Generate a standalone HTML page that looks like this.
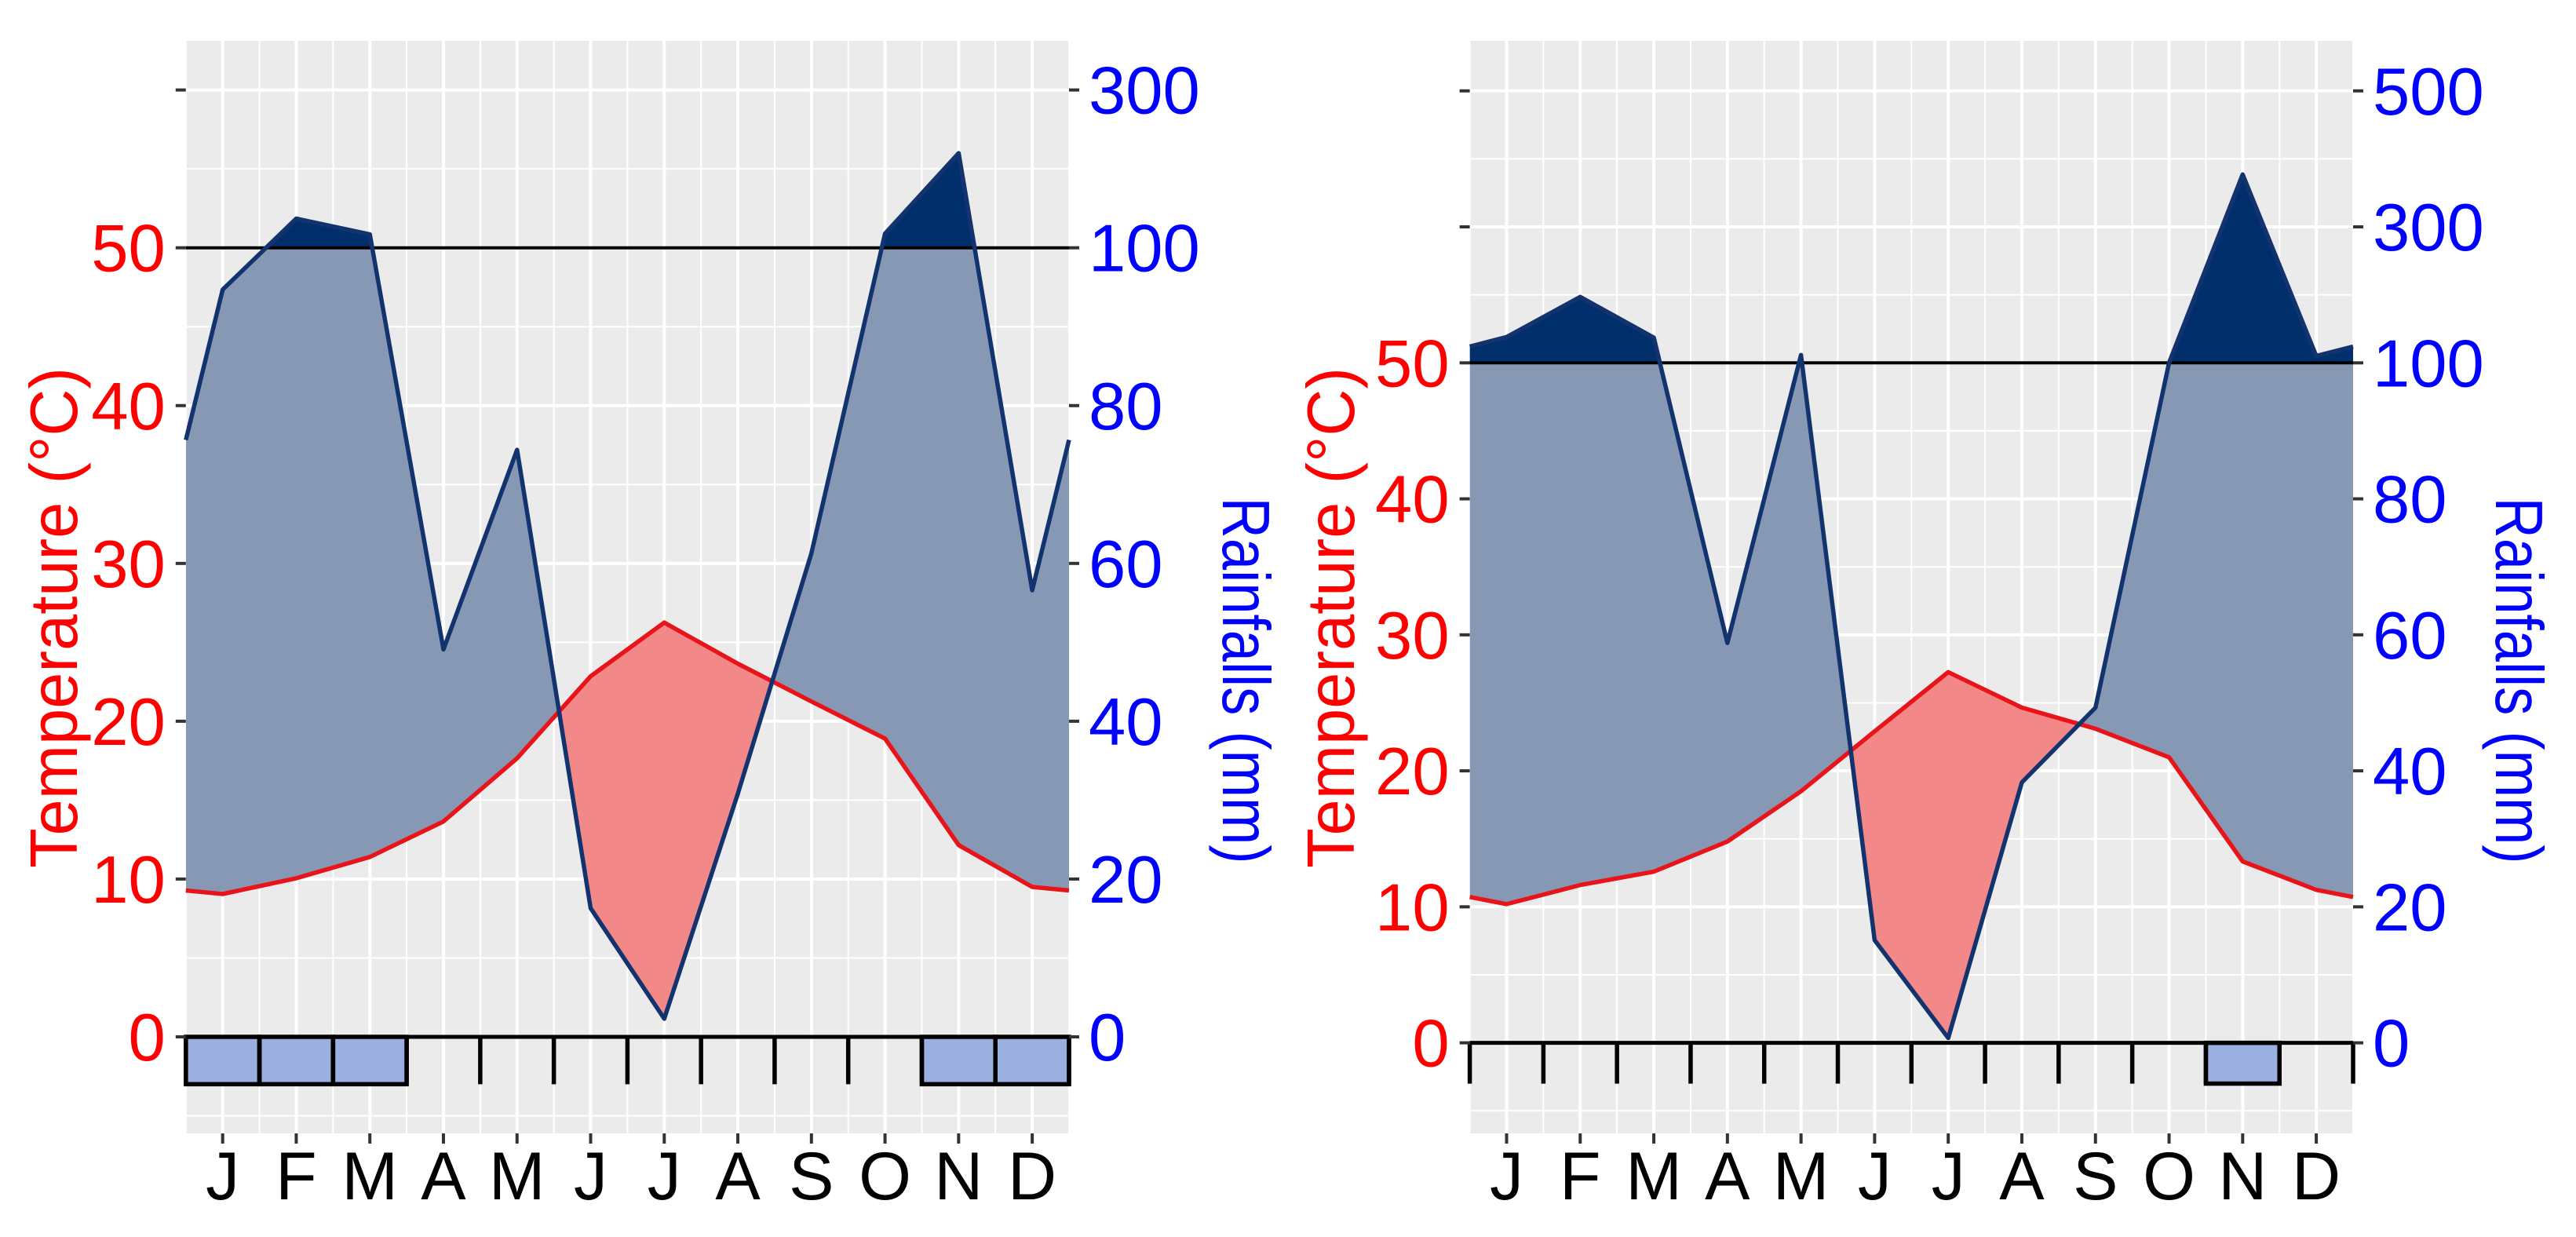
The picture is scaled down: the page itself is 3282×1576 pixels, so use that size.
<!DOCTYPE html>
<html><head><meta charset="utf-8"><style>
html,body{margin:0;padding:0;background:#fff;}
svg{display:block;font-family:"Liberation Sans",Arial,sans-serif;}
</style></head><body>
<svg id="chart" width="3282" height="1576" viewBox="0 0 3282 1576" xmlns="http://www.w3.org/2000/svg"></svg>
<script>
const months = ["J","F","M","A","M","J","J","A","S","O","N","D"];
const rainA = [94.7,137,117,49.1,74.4,16.3,2.3,30.8,61.3,118,220,56.6];
const tempA = [9.05,10.05,11.4,13.65,17.65,22.85,26.25,23.65,21.25,18.9,12.15,9.5];
const frostA = [1,1,1,0,0,0,0,0,0,0,1,1];
const rainB = [138,197,137,58.8,111.6,15.1,0.7,38.3,49.3,100,377,110];
const tempB = [10.2,11.6,12.59,14.8,18.5,22.9,27.26,24.65,23.1,21.0,13.34,11.25];
const frostB = [0,0,0,0,0,0,0,0,0,0,1,0];
const tempTicksA = [0,10,20,30,40,50];
const rainTicksA = [0,20,40,60,80,100,300];
const tempTicksB = [0,10,20,30,40,50];
const rainTicksB = [0,20,40,60,80,100,300,500];

const NS = "http://www.w3.org/2000/svg";
const svg = document.getElementById('chart');
function el(tag, attrs, parent){
  const e = document.createElementNS(NS, tag);
  for (const k in attrs) e.setAttribute(k, attrs[k]);
  (parent||svg).appendChild(e);
  return e;
}
function rainToT(r){ return r <= 100 ? r/2 : 50 + (r-100)/20; }

function panel(id, cfg, rain, temp, frost, tTicks, rTicks){
  const g = el('g', {});
  
  
  const L=cfg.left, R=cfg.right, T=cfg.top, B=cfg.bottom;
  const x = m => L + (m - 0.5) * (R - L) / 12;
  const y = t => cfg.y0 - (cfg.y0 - cfg.y50) / 50 * t;
  const tTop = (cfg.y0 - T) / ((cfg.y0 - cfg.y50) / 50);
  const bg = el('rect', {x:L, y:T, width:R-L, height:B-T, fill:'#ebebeb'}, g);
  
  
  for (let v=-5; v<=tTop; v+=5){
    const major = v % 10 === 0;
    el('line',{x1:L,x2:R,y1:y(v),y2:y(v),stroke:'#fff','stroke-width':major?4:2},g);
  }
  for (let m=0.5; m<=12.5; m+=0.5){
    const major = Number.isInteger(m);
    el('line',{x1:x(m),x2:x(m),y1:T,y2:B,stroke:'#fff','stroke-width':major?4:2},g);
  }
  const edgeR = (rain[0] + rain[11]) / 2, edgeT = (temp[0] + temp[11]) / 2;
  const rp = [[0.5, rainToT(edgeR)]].concat(rain.map((r,i)=>[i+1, rainToT(r)])).concat([[12.5, rainToT(edgeR)]]);
  const tp = [[0.5, edgeT]].concat(temp.map((t,i)=>[i+1, t])).concat([[12.5, edgeT]]);
  const pts = a => a.map(p => x(p[0]).toFixed(1)+','+y(p[1]).toFixed(1)).join(' ');
  const defs = el('defs', {}, g);
  const cA = el('clipPath', {id:id+'-aboveTemp'}, defs);
  el('polygon', {points: pts(tp) + ' ' + R + ',' + T + ' ' + L + ',' + T}, cA);
  const cR = el('clipPath', {id:id+'-aboveRain'}, defs);
  el('polygon', {points: pts(rp) + ' ' + R + ',' + T + ' ' + L + ',' + T}, cR);
  const cB = el('clipPath', {id:id+'-below50'}, defs);
  el('rect', {x:L, y:y(50), width:R-L, height:B-y(50)}, cB);
  const cU = el('clipPath', {id:id+'-above50'}, defs);
  el('rect', {x:L, y:T, width:R-L, height:y(50)-T}, cU);
  const closeB = ' ' + R + ',' + B + ' ' + L + ',' + B;
  const g1 = el('g', {'clip-path':'url(#'+id+'-aboveTemp)'}, g);
  const g1b = el('g', {'clip-path':'url(#'+id+'-below50)'}, g1);
  const humid = el('polygon', {points: pts(rp) + closeB, fill:'#8798b5'}, g1b);
  
  
  const g2 = el('g', {'clip-path':'url(#'+id+'-aboveRain)'}, g);
  const dry = el('polygon', {points: pts(tp) + closeB, fill:'#f38888'}, g2);
  
  
  const g3 = el('g', {'clip-path':'url(#'+id+'-above50)'}, g);
  const per = el('polygon', {points: pts(rp) + closeB, fill:'#002f6c'}, g3);
  
  
  el('line', {x1:L, x2:R, y1:y(50), y2:y(50), stroke:'#000', 'stroke-width':4}, g);
  const tl = el('polyline', {points: pts(tp), fill:'none', stroke:'#e8141a', 'stroke-width':5.5, 'stroke-linejoin':'round'}, g);
  
  
  const rl = el('polyline', {points: pts(rp), fill:'none', stroke:'#12336e', 'stroke-width':5.5, 'stroke-linejoin':'round'}, g);
  
  
  frost.forEach((f,i)=>{
    if (f){
      const b = el('rect', {x:x(i+0.5), y:y(0), width:x(i+1.5)-x(i+0.5), height:y(-3)-y(0), fill:'#9aaee0', stroke:'#000', 'stroke-width':5.5}, g);
      
      
    }
  });
  for (let m=0.5; m<=12.5; m+=1){
    el('line', {x1:x(m), x2:x(m), y1:y(0), y2:y(-3), stroke:'#000', 'stroke-width':5.5}, g);
  }
  el('line', {x1:L, x2:R, y1:y(0), y2:y(0), stroke:'#000', 'stroke-width':5}, g);
  for (let v=0; v<=tTop; v+=10){
    el('line', {x1:L-13, x2:L, y1:y(v), y2:y(v), stroke:'#333', 'stroke-width':4}, g);
  }
  tTicks.forEach(v=>{
    const t = el('text', {x:L-26, y:y(v)+30, 'text-anchor':'end', 'font-size':85, fill:'#ff0000'}, g);
    t.textContent = v;
    
    
  });
  rTicks.forEach(v=>{
    const yy = y(rainToT(v));
    el('line', {x1:R, x2:R+13, y1:yy, y2:yy, stroke:'#333', 'stroke-width':4}, g);
    const t = el('text', {x:R+25, y:yy+30, 'font-size':85, fill:'#0000ff'}, g);
    t.textContent = v;
    
    
  });
  months.forEach((m,i)=>{
    el('line', {x1:x(i+1), x2:x(i+1), y1:B, y2:B+13, stroke:'#333', 'stroke-width':4}, g);
    const t = el('text', {x:x(i+1), y:1528, 'text-anchor':'middle', 'font-size':86, fill:'#000'}, g);
    t.textContent = m;
    
    
  });
  const tt = el('text', {x:0, y:0, transform:'translate('+cfg.ttx+',787) rotate(-90)', 'text-anchor':'middle', 'font-size':85, fill:'#ff0000', textLength:638, lengthAdjust:'spacingAndGlyphs'}, g);
  tt.textContent = 'Temperature (°C)';
  
  
  const rt = el('text', {x:0, y:0, transform:'translate('+cfg.rtx+',867) rotate(90)', 'text-anchor':'middle', 'font-size':85, fill:'#0000ff', textLength:467, lengthAdjust:'spacingAndGlyphs'}, g);
  rt.textContent = 'Rainfalls (mm)';
  
  
}

panel('left-diagram', {left:236.8, right:1362, top:52, bottom:1444, y0:1321, y50:315.7, ttx:98, rtx:1558}, rainA, tempA, frostA, tempTicksA, rainTicksA);
panel('right-diagram', {left:1872.6, right:2998, top:52, bottom:1444, y0:1328.6, y50:462.3, ttx:1725, rtx:3180}, rainB, tempB, frostB, tempTicksB, rainTicksB);
</script>
</body></html>
